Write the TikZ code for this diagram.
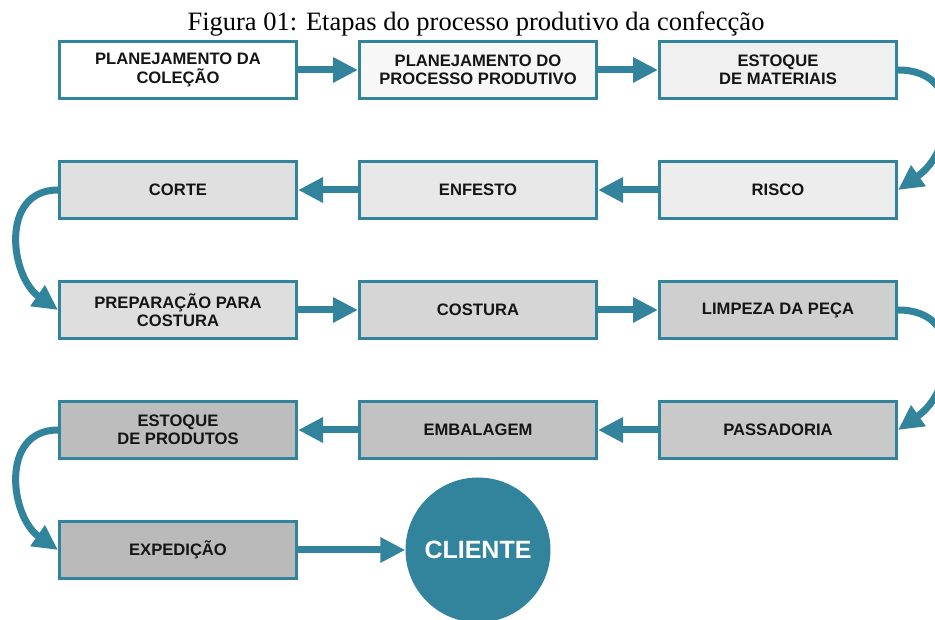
\documentclass[tikz,border=0pt]{standalone}
\usepackage{fontspec}
\setmainfont{Liberation Serif}
\newfontfamily\etapafont{Liberation Sans}
\usepackage{xcolor}
\usepackage{tikz}
\usetikzlibrary{arrows.meta}

\definecolor{azulpetroleo}{HTML}{31849B}
\definecolor{textoetapa}{HTML}{151515}

\tikzset{
  etapa/.style={draw=azulpetroleo, line width=3pt, minimum width=237pt,
    minimum height=57pt, inner sep=2pt, align=center, text=textoetapa,
    font=\etapafont\bfseries\fontsize{16.6}{18.5}\selectfont},
  seta/.style={draw=azulpetroleo, line width=7pt,
    -{Triangle[length=25pt,width=24pt]}},
}

\begin{document}
\begin{tikzpicture}[x=1pt,y=1pt]
\useasboundingbox (0,0) rectangle (935,620);
%Titulo
\node[anchor=base, font=\fontsize{26.5}{30}\selectfont, inner sep=0pt] (titulo) at (476,589) {Figura 01: Etapas do processo produtivo da confecção};
%Etapas
\node[etapa, fill=white]          (colecao)   at (178,550) {PLANEJAMENTO DA\\COLEÇÃO};
\node[etapa, fill=black!3]        (processo)  at (478,550) {PLANEJAMENTO DO\\PROCESSO PRODUTIVO};
\node[etapa, fill=black!6]        (estmat)    at (778,550) {ESTOQUE\\DE MATERIAIS};
\node[etapa, fill=black!7]        (risco)     at (778,430) {RISCO};
\node[etapa, fill=black!9]        (enfesto)   at (478,430) {ENFESTO};
\node[etapa, fill=black!12]       (corte)     at (178,430) {CORTE};
\node[etapa, fill=black!13]       (preparo)   at (178,310) {PREPARAÇÃO PARA\\COSTURA};
\node[etapa, fill=black!16]       (costura)   at (478,310) {COSTURA};
\node[etapa, fill=black!19]       (limpeza)   at (778,310) {LIMPEZA DA PEÇA};
\node[etapa, fill=black!21]       (passadoria) at (778,190) {PASSADORIA};
\node[etapa, fill=black!24]       (embalagem) at (478,190) {EMBALAGEM};
\node[etapa, fill=black!26]       (estprod)   at (178,190) {ESTOQUE\\DE PRODUTOS};
\node[etapa, fill=black!27]       (expedicao) at (178,70)  {EXPEDIÇÃO};
\node[circle, fill=azulpetroleo, minimum size=145pt, inner sep=0pt, text=white,
  font=\etapafont\bfseries\fontsize{25}{30}\selectfont] (cliente) at (478,70) {CLIENTE};
%Setas
\draw[seta] (colecao.east) -- (processo.west);
\draw[seta] (processo.east) -- (estmat.west);
\draw[seta] (estmat.east) to[out=0,in=35,looseness=1.45] (risco.east);
\draw[seta] (risco.west) -- (enfesto.east);
\draw[seta] (enfesto.west) -- (corte.east);
\draw[seta] (corte.west) to[out=180,in=145,looseness=1.25] (preparo.west);
\draw[seta] (preparo.east) -- (costura.west);
\draw[seta] (costura.east) -- (limpeza.west);
\draw[seta] (limpeza.east) to[out=0,in=35,looseness=1.45] (passadoria.east);
\draw[seta] (passadoria.west) -- (embalagem.east);
\draw[seta] (embalagem.west) -- (estprod.east);
\draw[seta] (estprod.west) to[out=180,in=145,looseness=1.25] (expedicao.west);
\draw[seta] (expedicao.east) -- (cliente.west);
\end{tikzpicture}
\end{document}
